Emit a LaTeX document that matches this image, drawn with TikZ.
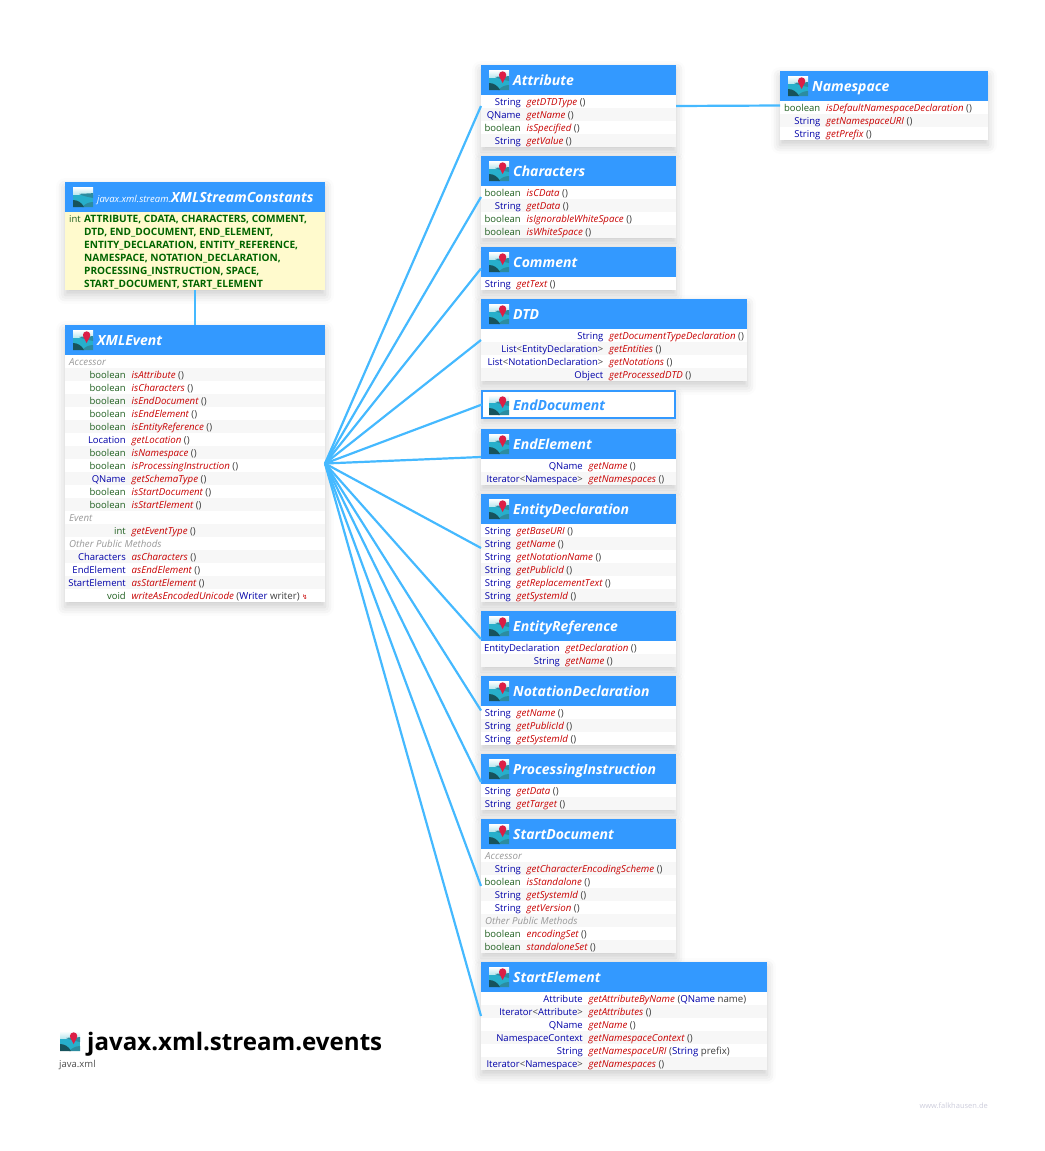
\documentclass[tikz,border=0pt]{standalone}
\usepackage{fontspec}
\setmainfont{Open Sans}
\newfontfamily\symfont{DejaVu Sans}
\usepackage{xcolor}
\usepackage{tikz}
\usetikzlibrary{shadows.blur}

\definecolor{headblue}{HTML}{3399FF}
\definecolor{linkblue}{HTML}{45B9FF}
\definecolor{rowgray}{HTML}{F7F7F7}
\definecolor{typeblue}{HTML}{0000A8}
\definecolor{typegreen}{HTML}{1F5F1F}
\definecolor{methodred}{HTML}{C80000}
\definecolor{constgreen}{HTML}{006400}
\definecolor{constyellow}{HTML}{FFFACD}
\definecolor{iconsky}{HTML}{BFE9F0}
\definecolor{iconwater}{HTML}{27AFCB}
\definecolor{iconmid}{HTML}{2C8CA0}
\definecolor{icondark}{HTML}{17535C}
\definecolor{iconpin}{HTML}{DC1E46}

\tikzset{
  classnode/.style={anchor=north west, inner sep=0pt, outer sep=0pt, fill=white,
    blur shadow={shadow xshift=0pt, shadow yshift=-5pt, shadow blur radius=9pt, shadow opacity=20}},
  headbox/.style={anchor=north west, inner sep=0pt, outer sep=0pt, fill=headblue, minimum height=30pt},
  rowbox/.style={anchor=north west, inner sep=0pt, outer sep=0pt, minimum height=13pt},
  titletext/.style={anchor=base west, inner sep=0pt, text=white, font=\fontsize{14}{16}\selectfont\bfseries\itshape},
  typetext/.style={anchor=base east, inner sep=0pt, font=\fontsize{9.5}{13}\selectfont},
  methodtext/.style={anchor=base west, inner sep=0pt, font=\fontsize{9.7}{13}\selectfont},
  sectiontext/.style={anchor=base west, inner sep=0pt, text=black!40, font=\fontsize{9.7}{13}\selectfont\itshape},
  consttext/.style={anchor=base west, inner sep=0pt, text=constgreen, font=\fontsize{10.1}{13}\selectfont\bfseries},
  link/.style={draw=linkblue, line width=2.2pt},
}

\newcommand{\tb}[1]{\textcolor{typeblue}{#1}}
\newcommand{\tg}[1]{\textcolor{typegreen}{#1}}
\newcommand{\mr}[1]{\textcolor{methodred}{\itshape #1}}
\newcommand{\ag}[1]{\textcolor{black!75}{#1}}
\newcommand{\bool}{\tg{boolean}}
\newcommand{\str}{\tb{String}}
\newcommand{\gen}[2]{\tb{#1}\ag{<}\tb{#2}\ag{>}}

% package icon, 20 wide, from its upper left corner
\newcommand{\pkgicon}[2]{
  \begin{scope}[shift={(#1,#2)}]
    \fill[iconwater] (0,0) rectangle (20,20);
    \fill[top color=white, bottom color=iconsky] (0,0) rectangle (20,7);
    \fill[iconmid] (6,7) .. controls (11,6) and (16,7) .. (20,6) -- (20,11) .. controls (15,10) and (10,9) .. (6,7) -- cycle;
    \fill[iconmid] (9,20) .. controls (12,17) and (16,15) .. (20,15) -- (20,20) -- cycle;
    \fill[icondark] (0,13) .. controls (5,13) and (9,16) .. (11,20) -- (0,20) -- cycle;
  \end{scope}
}
\newcommand{\pkgpin}[2]{
  \begin{scope}[shift={(#1,#2)}]
    \fill[iconpin] (13.6,5) circle (3.7);
    \fill[iconpin] (10.2,6.4) -- (13.6,13) -- (17,6.4) -- cycle;
  \end{scope}
}

% name, left, top, width, rows, type column, list of rows
\newcommand{\classbox}[7]{
  \node[classnode, minimum width=#4pt, minimum height={30pt+#5*13pt}] (#1) at (#2,#3) {};
  \foreach \rtype/\rname/\rargs [count=\i] in {#7} {
    \ifodd\i \def\rfill{white}\else \def\rfill{rowgray}\fi
    \node[rowbox, fill=\rfill, minimum width=#4pt] (#1-row\i) at (#2,{#3+30+13*(\i-1)}) {};
    \if\relax\detokenize\expandafter{\rname}\relax
      \node[sectiontext] (#1-sec\i) at ({#2+4},{#3+40.5+13*(\i-1)}) {\rtype};
    \else
      \node[typetext] (#1-type\i) at (#6,{#3+40+13*(\i-1)}) {\rtype};
      \node[methodtext] (#1-meth\i) at ({#6+5.5},{#3+40+13*(\i-1)}) {\mr{\rname}\ \ag{\rargs}};
    \fi
  }
  \node[headbox, minimum width=#4pt] (#1-head) at (#2,#3) {};
  \pkgicon{#2+8}{#3+5}
  \pkgpin{#2+8}{#3+5}
  \node[titletext] (#1-title) at ({#2+32},{#3+20}) {#1};
}

\begin{document}
\begin{tikzpicture}[x=1pt, y=-1pt]
  \useasboundingbox (0,0) rectangle (1044,1151);

  % left column
  \node[classnode, minimum width=260pt, minimum height=108pt] (constants) at (65,182) {};
  \node[rowbox, fill=constyellow, minimum width=260pt, minimum height=78pt] (constants-body) at (65,212) {};
  \node[headbox, minimum width=260pt] (constants-head) at (65,182) {};
  \pkgicon{73}{187}
  \node[titletext, font=\fontsize{9.5}{12}\selectfont\itshape] (constants-pkg) at (97,202) {javax.xml.stream.};
  \node[titletext, anchor=base west] (constants-title) at (171,202) {XMLStreamConstants};
  \node[typetext, anchor=base west] (constants-int) at (69,222) {\tg{int}};
  \node[consttext] (constants-1) at (84,222) {ATTRIBUTE, CDATA, CHARACTERS, COMMENT,};
  \node[consttext] (constants-2) at (84,235) {DTD, END\_DOCUMENT, END\_ELEMENT,};
  \node[consttext] (constants-3) at (84,248) {ENTITY\_DECLARATION, ENTITY\_REFERENCE,};
  \node[consttext] (constants-4) at (84,261) {NAMESPACE, NOTATION\_DECLARATION,};
  \node[consttext] (constants-5) at (84,274) {PROCESSING\_INSTRUCTION, SPACE,};
  \node[consttext] (constants-6) at (84,287) {START\_DOCUMENT, START\_ELEMENT};

  \classbox{XMLEvent}{65}{325}{260}{19}{126}{
    Accessor//,
    \bool/isAttribute/(),
    \bool/isCharacters/(),
    \bool/isEndDocument/(),
    \bool/isEndElement/(),
    \bool/isEntityReference/(),
    \tb{Location}/getLocation/(),
    \bool/isNamespace/(),
    \bool/isProcessingInstruction/(),
    \tb{QName}/getSchemaType/(),
    \bool/isStartDocument/(),
    \bool/isStartElement/(),
    Event//,
    \tg{int}/getEventType/(),
    Other Public Methods//,
    \tb{Characters}/asCharacters/(),
    \tb{EndElement}/asEndElement/(),
    \tb{StartElement}/asStartElement/(),
    \tg{void}/writeAsEncodedUnicode/(\tb{Writer} writer) \textcolor{methodred}{\symfont\fontsize{6.5}{8}\selectfont ↯}
  }

  % right column
  \classbox{Attribute}{481}{65}{195}{4}{521}{
    \str/getDTDType/(),
    \tb{QName}/getName/(),
    \bool/isSpecified/(),
    \str/getValue/()
  }
  \classbox{Characters}{481}{156}{195}{4}{521}{
    \bool/isCData/(),
    \str/getData/(),
    \bool/isIgnorableWhiteSpace/(),
    \bool/isWhiteSpace/()
  }
  \classbox{Comment}{481}{247}{195}{1}{511}{
    \str/getText/()
  }
  \classbox{DTD}{481}{299}{266}{4}{603.5}{
    \str/getDocumentTypeDeclaration/(),
    \gen{List}{EntityDeclaration}/getEntities/(),
    \gen{List}{NotationDeclaration}/getNotations/(),
    \tb{Object}/getProcessedDTD/()
  }
  \node[classnode, fill=white, draw=headblue, line width=2pt, minimum width=193pt, minimum height=27pt] (EndDocument) at (482,391) {};
  \pkgicon{489}{395}
  \pkgpin{489}{395}
  \node[titletext, text=headblue] (EndDocument-title) at (513,410) {EndDocument};
  \classbox{EndElement}{481}{429}{195}{2}{583}{
    \tb{QName}/getName/(),
    \gen{Iterator}{Namespace}/getNamespaces/()
  }
  \classbox{EntityDeclaration}{481}{494}{195}{6}{511}{
    \str/getBaseURI/(),
    \str/getName/(),
    \str/getNotationName/(),
    \str/getPublicId/(),
    \str/getReplacementText/(),
    \str/getSystemId/()
  }
  \classbox{EntityReference}{481}{611}{195}{2}{560}{
    \tb{EntityDeclaration}/getDeclaration/(),
    \str/getName/()
  }
  \classbox{NotationDeclaration}{481}{676}{195}{3}{511}{
    \str/getName/(),
    \str/getPublicId/(),
    \str/getSystemId/()
  }
  \classbox{ProcessingInstruction}{481}{754}{195}{2}{511}{
    \str/getData/(),
    \str/getTarget/()
  }
  \classbox{StartDocument}{481}{819}{195}{8}{521}{
    Accessor//,
    \str/getCharacterEncodingScheme/(),
    \bool/isStandalone/(),
    \str/getSystemId/(),
    \str/getVersion/(),
    Other Public Methods//,
    \bool/encodingSet/(),
    \bool/standaloneSet/()
  }
  \classbox{StartElement}{481}{962}{286}{6}{583}{
    \tb{Attribute}/getAttributeByName/(\tb{QName} name),
    \gen{Iterator}{Attribute}/getAttributes/(),
    \tb{QName}/getName/(),
    \tb{NamespaceContext}/getNamespaceContext/(),
    \str/getNamespaceURI/(\str{} prefix),
    \gen{Iterator}{Namespace}/getNamespaces/()
  }
  \classbox{Namespace}{780}{71}{208}{3}{820.5}{
    \bool/isDefaultNamespaceDeclaration/(),
    \str/getNamespaceURI/(),
    \str/getPrefix/()
  }

  % connectors
  \draw[link] (constants.south) -- (XMLEvent.north);
  \draw[link] (Attribute.east) -- (Namespace.west);
  \foreach \target in {Attribute,Characters,Comment,DTD,EndDocument,EndElement,EntityDeclaration,
      EntityReference,NotationDeclaration,ProcessingInstruction,StartDocument,StartElement}
    \draw[link] (XMLEvent.east) -- (\target.west);

  % title
  \pkgicon{60}{1031}
  \pkgpin{60}{1031}
  \node[anchor=base west, inner sep=0pt, font=\fontsize{24.1}{28}\selectfont\bfseries] (pkgtitle) at (87,1050) {javax.xml.stream.events};
  \node[anchor=base west, inner sep=0pt, text=black!70, font=\fontsize{9.5}{12}\selectfont] (pkgmodule) at (59,1067) {java.xml};
  \node[anchor=base east, inner sep=0pt, text=blue!30!black!20, font=\fontsize{7.5}{9}\selectfont] (website) at (988,1108) {www.falkhausen.de};
\end{tikzpicture}
\end{document}
